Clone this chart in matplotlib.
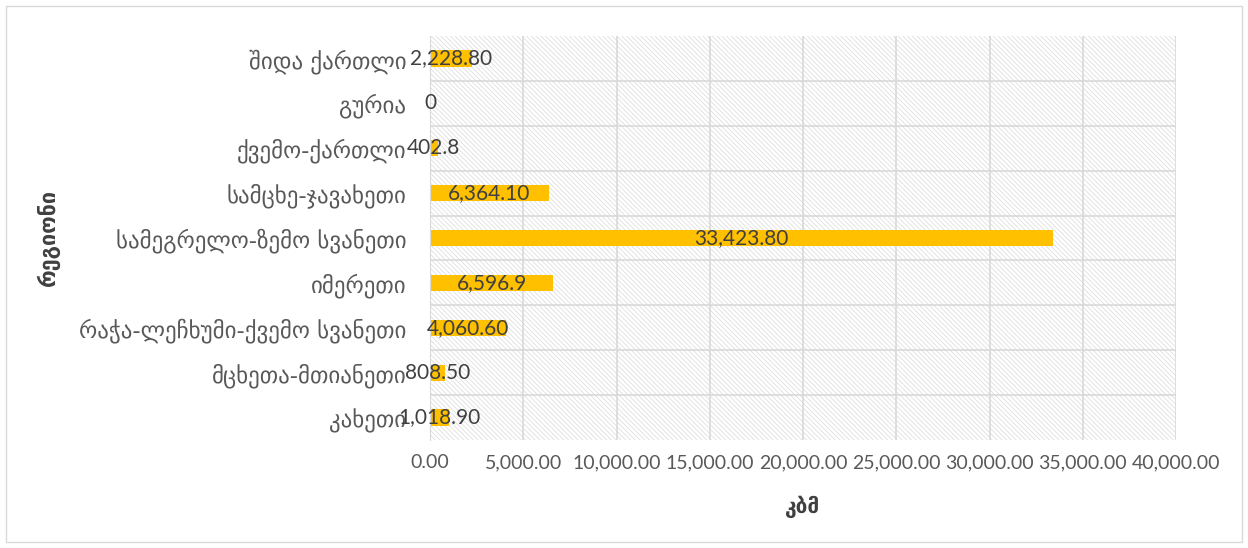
import matplotlib
matplotlib.use("Agg")
import matplotlib.pyplot as plt
from matplotlib.patches import Rectangle
from matplotlib.ticker import FuncFormatter, MultipleLocator

plt.rcParams['font.family'] = ['Lato', 'DejaVu Sans']
plt.rcParams['hatch.linewidth'] = 0.5
plt.rcParams['hatch.color'] = '#d9d9d9'

regions = ["კახეთი", "მცხეთა-მთიანეთი", "რაჭა-ლეჩხუმი-ქვემო სვანეთი", "იმერეთი",
           "სამეგრელო-ზემო სვანეთი", "სამცხე-ჯავახეთი", "ქვემო-ქართლი", "გურია", "შიდა ქართლი"]
values = [1018.9, 808.5, 4060.6, 6596.9, 33423.8, 6364.1, 402.8, 0, 2228.8]
value_labels = ["1,018.90", "808.50", "4,060.60", "6,596.9", "33,423.80", "6,364.10", "402.8", "0", "2,228.80"]
x_label = "კბმ"
y_label = "რეგიონი"

fig = plt.figure(figsize=(12.48, 5.48), dpi=100)
fig.patches.append(Rectangle((6/1248, 6/548), 1236/1248, 536/548, transform=fig.transFigure,
                             fill=False, edgecolor='#d9d9d9', linewidth=1))
ax = fig.add_axes([430/1248, 1 - 440/548, (1176-430)/1248, (440-36)/548])

ax.add_patch(Rectangle((0, 0), 1, 1, transform=ax.transAxes, facecolor='white',
                       edgecolor='#d9d9d9', hatch='\\\\\\\\\\\\\\', linewidth=0, zorder=0))

pos = list(range(len(regions)))
ax.barh(pos, values, height=0.36, color='#FFC000', zorder=2)
for p, v, lab in zip(pos, values, value_labels):
    ax.text(v / 2, p, lab, ha='center', va='center', fontsize=15, color='#404040', zorder=3)

ax.set_xlim(0, 40000)
ax.set_ylim(-0.5, len(regions) - 0.5)
ax.xaxis.set_major_locator(MultipleLocator(5000))
ax.xaxis.set_major_formatter(FuncFormatter(lambda x, _: f"{x:,.2f}"))
ax.set_yticks(pos)
ax.set_yticklabels(regions, fontsize=16.5, family='DejaVu Sans')
ax.set_yticks([p + 0.5 for p in pos[:-1]], minor=True)
ax.grid(axis='x', which='major', color='#d9d9d9', linewidth=1.2, zorder=1)
ax.grid(axis='y', which='minor', color='#d9d9d9', linewidth=1.2, zorder=1)
ax.set_axisbelow(True)
ax.tick_params(axis='both', which='both', length=0, colors='#595959')
ax.tick_params(axis='x', labelsize=14, pad=10)
ax.tick_params(axis='y', pad=17)
for s in ax.spines.values():
    s.set_visible(False)
ax.spines['left'].set_visible(True)
ax.spines['left'].set_color('#d9d9d9')
ax.set_xlabel(x_label, fontsize=15, color='#404040', fontweight='bold', labelpad=18)
ax.set_ylabel(y_label, fontsize=15.5, color='#404040', fontweight='bold')
ax.yaxis.set_label_coords(-370/746, 0.5)

fig.savefig("out.png", dpi=100)
